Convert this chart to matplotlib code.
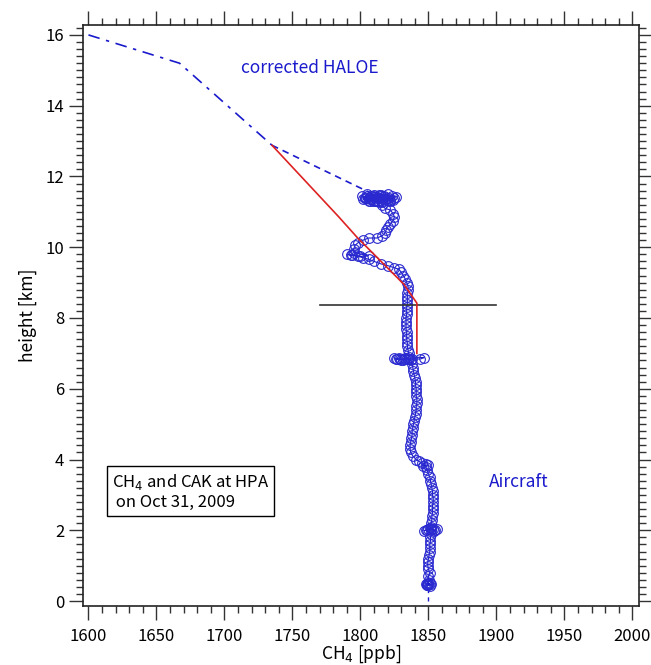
import numpy as np
import matplotlib
matplotlib.use('Agg')
import matplotlib.pyplot as plt
from matplotlib.ticker import MultipleLocator

plt.rcParams['font.family'] = ['Noto Sans CJK JP', 'DejaVu Sans']

# HALOE profile (upper part) and its link to the top of the aircraft profile
haloe_ppb = [1600, 1667, 1735]
haloe_km = [16.0, 15.2, 12.88]
link_ppb = [1735, 1812]
link_km = [12.88, 11.45]

# CAK-smoothed profile
cak_ppb = [1735, 1784, 1798, 1832, 1841.5, 1841.5]
cak_km = [12.88, 10.86, 10.26, 8.95, 8.42, 7.0]

# tropopause line
trop_ppb = [1770, 1900]
trop_km = [8.37, 8.37]

# extension of aircraft profile to the ground
ext_ppb = [1850, 1850]
ext_km = [0.0, 0.45]

# aircraft profile, in flight order (height in km, CH4 in ppb)
air_km = [0.45, 0.50, 0.47, 0.42, 0.48, 0.52, 0.46, 0.50, 0.44, 0.49,
          0.6, 0.7, 0.8, 0.9, 1.0, 1.1, 1.2, 1.3, 1.4, 1.5, 1.6, 1.7, 1.8, 1.9,
          2.0, 2.05, 2.02, 1.98, 2.04, 2.0, 2.03, 2.06, 2.0, 1.99, 2.03,
          2.1, 2.2, 2.3, 2.4, 2.5, 2.6, 2.7, 2.8, 2.9, 3.0, 3.1, 3.2, 3.3,
          3.4, 3.5, 3.6, 3.7, 3.8, 3.85, 3.82, 3.88, 3.9, 3.95,
          4.0, 4.1, 4.2, 4.3, 4.4, 4.5, 4.6, 4.7, 4.8, 4.9, 5.0, 5.1, 5.2,
          5.3, 5.4, 5.5, 5.6, 5.7, 5.8, 5.9, 6.0, 6.1, 6.2, 6.3, 6.4, 6.5,
          6.6, 6.7, 6.8, 6.84, 6.86, 6.82, 6.85, 6.83, 6.87, 6.84, 6.86,
          6.82, 6.84, 6.86, 6.83, 6.85, 6.84, 6.88, 6.9,
          7.0, 7.1, 7.2, 7.3, 7.4, 7.5, 7.6, 7.7, 7.8, 7.9, 8.0, 8.1, 8.2,
          8.3, 8.4, 8.5, 8.6, 8.7, 8.8, 8.9, 9.0, 9.1, 9.2, 9.3, 9.38, 9.42,
          9.48, 9.53, 9.6, 9.66, 9.7, 9.75, 9.78, 9.8, 9.77, 9.74, 9.76, 9.85,
          9.95, 10.05, 10.12, 10.2, 10.26, 10.26, 10.32, 10.4, 10.5, 10.57,
          10.65, 10.75, 10.85, 10.95, 11.05, 11.1, 11.2, 11.28,
          11.3, 11.35, 11.4, 11.45, 11.38, 11.32, 11.42, 11.48, 11.36, 11.3,
          11.4, 11.46, 11.34, 11.28, 11.38, 11.44, 11.5, 11.36, 11.3, 11.42,
          11.47, 11.35, 11.4, 11.33, 11.45, 11.38,
          11.32, 11.4, 11.48, 11.44, 11.36, 11.3, 11.34, 11.42, 11.5, 11.46,
          11.38, 11.32, 11.4, 11.44, 11.36, 11.42]
air_ppb = [1849, 1850, 1852, 1851, 1848, 1850, 1849, 1851, 1850, 1849,
           1850.5, 1850, 1851, 1850, 1849.5, 1849.5, 1850, 1850.5, 1851, 1851,
           1851, 1851.5, 1851.5, 1852,
           1848, 1850, 1852, 1854, 1856, 1855, 1853, 1851, 1849, 1847, 1852,
           1852, 1852, 1852.5, 1852.5, 1853, 1853, 1853, 1853.5, 1853.5, 1853,
           1853, 1852.5, 1852, 1851.5, 1851, 1850, 1849, 1848, 1850, 1846,
           1848, 1845, 1843,
           1841, 1838.5, 1837, 1836.5, 1836.5, 1837, 1837.5, 1838, 1838,
           1838.5, 1839, 1839.5, 1840, 1840.5, 1841, 1841, 1841.5, 1841.5,
           1841, 1841, 1841, 1840.5, 1840.5, 1840, 1839.5, 1839, 1838.5, 1838,
           1837, 1835, 1833, 1831, 1829, 1827, 1825, 1826, 1828, 1830, 1832,
           1834, 1836, 1838, 1844, 1847, 1836,
           1835.5, 1835, 1834.5, 1834.5, 1834, 1834, 1834, 1833.5, 1833.5,
           1833.5, 1833.5, 1834, 1834, 1834, 1834.5, 1834.5, 1834.5, 1834.5,
           1835, 1835, 1834, 1833, 1831.5, 1830, 1828, 1825, 1820, 1815,
           1810, 1806, 1802, 1798, 1794, 1790, 1793, 1800, 1806, 1795, 1795,
           1796, 1798, 1802, 1806, 1812, 1816, 1818, 1819, 1820, 1822, 1824,
           1825, 1824, 1822, 1818, 1816, 1814,
           1812, 1808, 1804, 1801, 1803, 1806, 1810, 1814, 1818, 1822, 1825,
           1823, 1820, 1816, 1812, 1808, 1805, 1802, 1807, 1811, 1815, 1819,
           1821, 1824, 1817, 1813,
           1809, 1806, 1810, 1815, 1819, 1816, 1822, 1826, 1820, 1805, 1803,
           1811, 1814, 1809, 1807, 1817]

fig = plt.figure(figsize=(6.51, 6.65), dpi=100)
ax = fig.add_axes([0.1275, 0.0887, 0.854, 0.8737])

ax.plot(haloe_ppb, haloe_km, color='#1a1acc', lw=1.2, linestyle=(0, (7, 4, 2, 4)))
ax.plot(link_ppb, link_km, color='#1a1acc', lw=1.2, linestyle=(0, (4, 3)))
ax.plot(ext_ppb, ext_km, color='#1a1acc', lw=1.0, linestyle=(0, (3, 3)))
ax.plot(air_ppb, air_km, color='#1a1acc', lw=0.8, marker='o', markersize=7,
        markerfacecolor='none', markeredgecolor='#2a2ad0', markeredgewidth=0.8)
ax.plot(trop_ppb, trop_km, color='#333333', lw=1.2)
ax.plot(cak_ppb, cak_km, color='#dd2222', lw=1.2)

ax.text(1763, 15.07, 'corrected HALOE', color='#1a1acc', fontsize=12.5,
        ha='center', va='center')
ax.text(1916.5, 3.36, 'Aircraft', color='#1a1acc', fontsize=12.5,
        ha='center', va='center')
ax.text(1617, 3.1, 'CH$_4$ and CAK at HPA\n on Oct 31, 2009', fontsize=12,
        ha='left', va='center', linespacing=1.2,
        bbox=dict(boxstyle='square,pad=0.3', facecolor='white',
                  edgecolor='black', linewidth=1.0))

ax.set_xlim(1596, 2004.8)
ax.set_ylim(-0.14, 16.28)
ax.xaxis.set_major_locator(MultipleLocator(50))
ax.xaxis.set_minor_locator(MultipleLocator(10))
ax.yaxis.set_major_locator(MultipleLocator(2))
ax.yaxis.set_minor_locator(MultipleLocator(0.2))
ax.tick_params(which='both', direction='out', top=True, right=True,
               color='#333333', width=1.0, labelsize=12)
ax.tick_params(which='major', length=10)
ax.tick_params(which='minor', length=5)
ax.tick_params(axis='x', pad=6)
for s in ax.spines.values():
    s.set_linewidth(1.2)
    s.set_color('#222222')

ax.set_xlabel('CH$_4$ [ppb]', fontsize=12.5, labelpad=-1)
ax.set_ylabel('height [km]', fontsize=12.5, labelpad=6)

fig.savefig('out.png', dpi=100)
